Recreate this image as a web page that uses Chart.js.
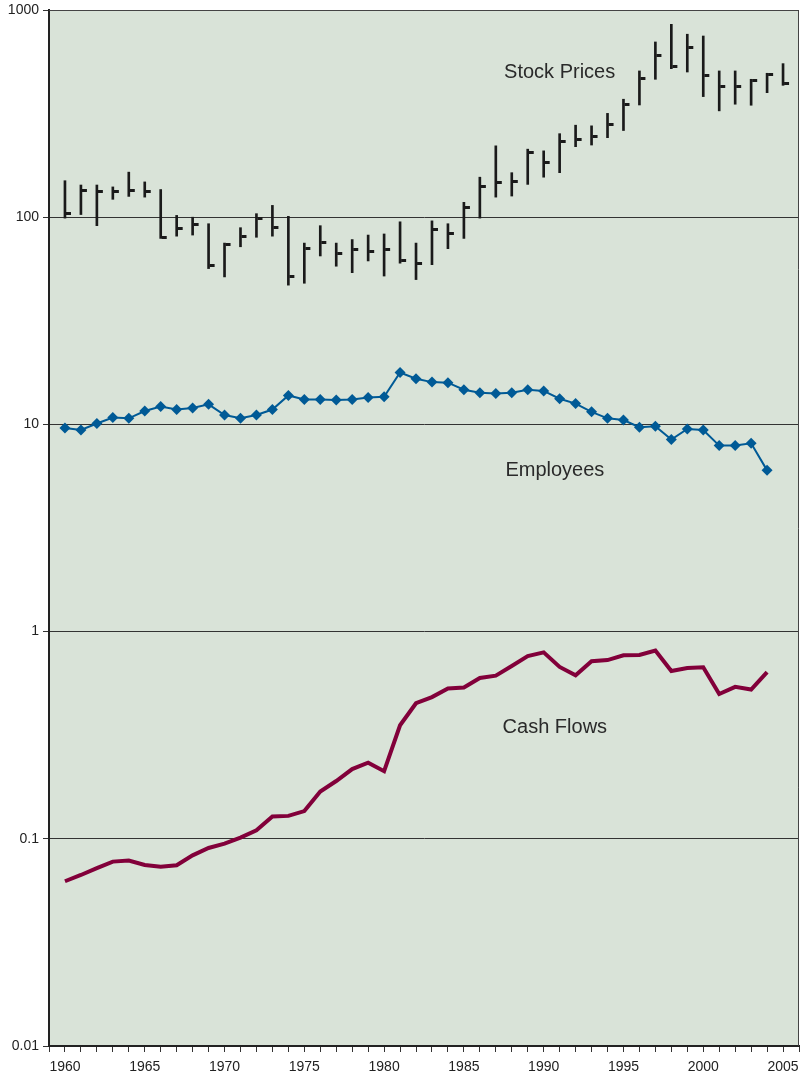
<!DOCTYPE html>
<html>
<head>
<meta charset="utf-8">
<script src="https://cdn.jsdelivr.net/npm/chart.js@4.4.1/dist/chart.umd.min.js"></script>
<style>
  html, body { margin: 0; padding: 0; background: #fff; overflow: hidden; }
  #wrap { width: 800px; height: 1077px; position: relative; }
</style>
</head>
<body>
<div id="wrap"><canvas id="chart"></canvas></div>
<script>
var years = [1960, 1961, 1962, 1963, 1964, 1965, 1966, 1967, 1968, 1969,
             1970, 1971, 1972, 1973, 1974, 1975, 1976, 1977, 1978, 1979,
             1980, 1981, 1982, 1983, 1984, 1985, 1986, 1987, 1988, 1989,
             1990, 1991, 1992, 1993, 1994, 1995, 1996, 1997, 1998, 1999,
             2000, 2001, 2002, 2003, 2004, 2005];

// stock prices: yearly high / low / close
var stockHigh = [150, 143, 143, 140, 165, 148, 136, 102, 100, 93,
                 75, 89, 104, 114, 101, 75, 91, 75, 78, 82,
                 83, 95, 75, 96, 93, 118, 156, 221, 164, 213,
                 209, 253, 278, 276, 317, 371, 508, 701, 853, 764,
                 749, 508, 508, 463, 495, 551];
var stockLow = [99, 103, 91, 122, 126, 125, 79, 81, 82, 56.5,
                51.5, 72, 80, 81, 47, 48, 65, 58, 54, 61.5,
                52, 60, 50, 59, 70.5, 79, 99, 125, 126.5, 144,
                156, 164, 219, 223, 242, 262, 348, 463, 521, 502,
                382, 326, 351, 347, 399, 433];
var stockClose = [104, 135, 133, 133, 134, 133, 80, 88, 92, 58.6,
                  74, 81, 98.5, 89, 52, 70.5, 75.4, 67, 70, 68,
                  70, 62, 60, 87, 83, 112, 140, 147, 148, 205,
                  183, 233, 238, 245, 281, 351, 468, 604, 531, 662,
                  484, 427, 427, 459, 489, 442];

// 1960-2004
var employees = [9.6, 9.4, 10.1, 10.8, 10.7, 11.6, 12.2, 11.8, 12.0, 12.5,
                 11.1, 10.7, 11.1, 11.8, 13.8, 13.2, 13.2, 13.1, 13.2, 13.5,
                 13.6, 17.8, 16.6, 16.0, 15.9, 14.7, 14.2, 14.1, 14.2, 14.7,
                 14.5, 13.3, 12.6, 11.5, 10.7, 10.5, 9.7, 9.8, 8.45, 9.5,
                 9.4, 7.9, 7.9, 8.1, 6.0];
var cashFlows = [0.0624, 0.0669, 0.0722, 0.0776, 0.0785, 0.0748, 0.0734, 0.0745, 0.0832, 0.0903,
                 0.0948, 0.1014, 0.110, 0.128, 0.129, 0.136, 0.169, 0.190, 0.217, 0.233,
                 0.212, 0.353, 0.451, 0.483, 0.532, 0.537, 0.597, 0.613, 0.682, 0.762,
                 0.794, 0.675, 0.615, 0.719, 0.729, 0.769, 0.771, 0.810, 0.645, 0.667,
                 0.673, 0.500, 0.541, 0.525, 0.638];

var yTicks = [0.01, 0.1, 1, 10, 100, 1000];

var seriesLabels = [
    { text: "Stock Prices", x: 1991, y: 500 },
    { text: "Employees", x: 1990.7, y: 6.0 },
    { text: "Cash Flows", x: 1990.7, y: 0.345 }
];

var ink = "#222222",
    plotBg = "#d9e3d8",
    blue = "#005a96",
    wine = "#82003a";

// little right-hand "close" tick, drawn as an image point offset to the right
var closeTick = document.createElement("canvas");
closeTick.width = 14;
closeTick.height = 3;
(function () {
    var c = closeTick.getContext("2d");
    c.fillStyle = "#1a1a1a";
    c.fillRect(8, 0, 5, 3);
})();

function pairs(values) {
    return values.map(function (v, i) { return { x: years[i], y: v }; });
}

var plotFrame = {
    id: "plotFrame",
    beforeDraw: function (chart) {
        var a = chart.chartArea, ctx = chart.ctx;
        ctx.save();
        ctx.fillStyle = plotBg;
        ctx.fillRect(a.left, a.top, a.right - a.left, a.bottom - a.top);
        ctx.restore();
    },
    afterDraw: function (chart) {
        var a = chart.chartArea, ctx = chart.ctx;
        ctx.save();
        ctx.strokeStyle = "#444";
        ctx.lineWidth = 1;
        ctx.beginPath();
        ctx.moveTo(a.left, a.top + 0.5);
        ctx.lineTo(a.right - 0.5, a.top + 0.5);
        ctx.lineTo(a.right - 0.5, a.bottom);
        ctx.stroke();
        ctx.restore();
    }
};

var seriesText = {
    id: "seriesText",
    afterDatasetsDraw: function (chart) {
        var ctx = chart.ctx, xs = chart.scales.x, ys = chart.scales.y;
        ctx.save();
        ctx.font = '20px "Liberation Sans", Arial, sans-serif';
        ctx.fillStyle = "#2a2a2a";
        ctx.textAlign = "center";
        ctx.textBaseline = "middle";
        seriesLabels.forEach(function (l) {
            ctx.fillText(l.text, xs.getPixelForValue(l.x), ys.getPixelForValue(l.y));
        });
        ctx.restore();
    }
};

Chart.defaults.font.family = '"Liberation Sans", Arial, sans-serif';
Chart.defaults.font.size = 14;
Chart.defaults.color = ink;

new Chart(document.getElementById("chart").getContext("2d"), {
    type: "bar",
    data: {
        datasets: [{
            type: "bar",
            label: "Stock range",
            data: years.map(function (y, i) { return { x: y, y: [stockLow[i], stockHigh[i]] }; }),
            backgroundColor: "#1a1a1a",
            barThickness: 2,
            order: 3
        }, {
            type: "line",
            label: "Stock close",
            data: pairs(stockClose),
            showLine: false,
            pointStyle: closeTick,
            pointRadius: 3,
            order: 2
        }, {
            type: "line",
            label: "Employees",
            data: pairs(employees),
            borderColor: blue,
            backgroundColor: blue,
            borderWidth: 2,
            pointStyle: "rectRot",
            pointRadius: 5.5,
            pointBorderWidth: 0,
            order: 1
        }, {
            type: "line",
            label: "Cash Flows",
            data: pairs(cashFlows),
            borderColor: wine,
            borderWidth: 4,
            pointRadius: 0,
            borderJoinStyle: "miter",
            order: 0
        }]
    },
    options: {
        responsive: true,
        maintainAspectRatio: false,
        animation: false,
        layout: { autoPadding: false, padding: { top: 10, right: 1, left: 0, bottom: 0 } },
        plugins: {
            legend: { display: false },
            tooltip: { enabled: false }
        },
        scales: {
            x: {
                type: "linear",
                min: 1959,
                max: 2006,
                offset: false,
                grid: { display: true, drawOnChartArea: false, offset: false, tickLength: 6, color: "#333", tickColor: "#333" },
                border: { display: true, color: ink, width: 2 },
                ticks: {
                    stepSize: 1,
                    autoSkip: false,
                    maxRotation: 0,
                    padding: 0,
                    color: ink,
                    font: { size: 14, lineHeight: 2.2 },
                    callback: function (v) { return v % 5 === 0 ? String(v) : ""; }
                },
                afterFit: function (s) {
                    s.height = 31;
                    s.paddingLeft = 0;
                    s.paddingRight = 0;
                }
            },
            y: {
                type: "logarithmic",
                min: 0.01,
                max: 1000,
                afterBuildTicks: function (s) {
                    s.ticks = yTicks.map(function (v) { return { value: v }; });
                },
                grid: { color: "#333", tickColor: "#333", lineWidth: 1, tickLength: 6 },
                border: { display: true, color: ink, width: 2 },
                ticks: {
                    padding: 4,
                    color: ink,
                    callback: function (v) { return String(v); }
                },
                afterFit: function (s) {
                    s.width = 49;
                    s.paddingTop = 0;
                    s.paddingBottom = 0;
                }
            }
        }
    },
    plugins: [plotFrame, seriesText]
});
</script>
</body>
</html>
